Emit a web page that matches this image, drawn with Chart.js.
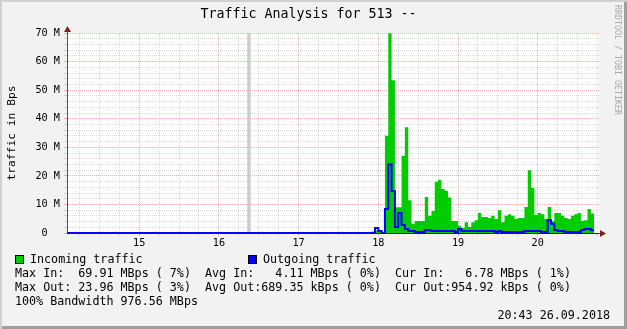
<!DOCTYPE html>
<html lang="en">
<head>
  <meta charset="UTF-8" />
  <title>Traffic Analysis for 513</title>
  <script src="https://cdn.jsdelivr.net/npm/chart.js"></script>
  <style>
    body { margin: 0; background: #fff; }
    .graph {
      position: relative; width: 627px; height: 329px; overflow: hidden;
      background: #f2f2f2;
      box-shadow: inset 2px 2px 0 #cfcfcf, inset -3px -3px 0 #9e9e9e;
      font-family: "DejaVu Sans Mono", monospace; color: #000;
    }
    .graph canvas { position: absolute; left: 0; top: 0; }
    .txt { position: absolute; white-space: pre; line-height: 14px; font-size: 11.7px; }
    .title { position: absolute; left: 0; width: 617px; top: 7px; text-align: center; font-size: 13.3px; line-height: 14px; white-space: pre; }
    .mark { position: absolute; left: 612px; top: 5px; writing-mode: vertical-rl; font-size: 8.3px; line-height: 11px; color: #a8a8a8; white-space: pre; }
    .box { position: absolute; width: 9px; height: 9px; box-sizing: border-box; border: 1px solid #000; }
  </style>
</head>
<body>
  <div class="graph">
    <canvas id="traffic" width="627" height="260"></canvas>
    <div class="title">Traffic Analysis for 513 --</div>
    <div class="mark">RRDTOOL / TOBI OETIKER</div>

    <div class="box" style="left: 15px; top: 255px; background: #00cc00;"></div>
    <div class="txt" style="left: 30px; top: 252px;">Incoming traffic</div>
    <div class="box" style="left: 248px; top: 255px; background: #0000ff;"></div>
    <div class="txt" style="left: 263px; top: 252px;">Outgoing traffic</div>

    <div class="txt" style="left: 15px; top: 266px;">Max In:  69.91 MBps ( 7%)</div>
    <div class="txt" style="left: 205px; top: 266px;">Avg In:   4.11 MBps ( 0%)</div>
    <div class="txt" style="left: 395px; top: 266px;">Cur In:   6.78 MBps ( 1%)</div>
    <div class="txt" style="left: 15px; top: 280px;">Max Out: 23.96 MBps ( 3%)</div>
    <div class="txt" style="left: 205px; top: 280px;">Avg Out:689.35 kBps ( 0%)</div>
    <div class="txt" style="left: 395px; top: 280px;">Cur Out:954.92 kBps ( 0%)</div>
    <div class="txt" style="left: 15px; top: 294px;">100% Bandwidth 976.56 MBps</div>
    <div class="txt" style="right: 17px; top: 308px;">20:43 26.09.2018</div>
  </div>

  <script>
    // x axis is in days, y axis in M (Bps)
    const dayValues = [15, 16, 17, 18, 19, 20];
    const dayLabels = ["15", "16", "17", "18", "19", "20"];
    const yTickValues = [0, 10, 20, 30, 40, 50, 60, 70];
    const yTickLabels = ["0  ", "10 M", "20 M", "30 M", "40 M", "50 M", "60 M", "70 M"];

    const X_MIN = 14.094;
    const X_MAX = 20.769;
    const Y_MAX = 70;

    // hourly samples, first one starts 2 hours before day 18
    const firstHour = -2;
    const incoming = [
      0.5, 1.0, 0.5, 0, 34, 69.9, 53.5, 9, 9, 27,
      37, 11.5, 3.2, 4.2, 4.2, 4.2, 12.6, 6, 7.7, 17.9,
      18.6, 15.4, 14.7, 12.4, 4.2, 4.2, 2.5, 1.75, 3.8, 2.1,
      3.8, 4.5, 7, 5.6, 5.6, 5.25, 6, 4.9, 8, 3.8,
      6, 6.6, 6, 4.9, 5.25, 5.25, 9.1, 22, 15.75, 6.3,
      7, 6.6, 4.9, 9.1, 4.2, 7, 7, 6, 5.25, 4.9,
      6, 6.6, 7, 4.2, 4.5, 8.4, 6.8
    ];
    const outgoing = [
      0, 1.75, 0.7, 0, 8.4, 23.96, 14.7, 2.1, 7, 2.8,
      1.4, 0.7, 0.7, 0.35, 0.35, 0.35, 1.0, 1.0, 0.7, 0.7,
      0.7, 0.7, 0.7, 0.7, 0.7, 0.35, 1.4, 0.7, 0.7, 0.7,
      0.7, 0.7, 0.7, 0.7, 0.7, 0.7, 0.7, 0.35, 0.7, 0.35,
      0.35, 0.35, 0.35, 0.35, 0.35, 0.35, 0.7, 0.7, 0.7, 0.7,
      0.7, 0.35, 0.35, 4.5, 3.2, 1.05, 0.7, 0.7, 0.35, 0.35,
      0.35, 0.35, 0.35, 1.05, 1.4, 1.4, 0.95
    ];
    // no data stored for this stretch (days)
    const unknownSpan = [16.354, 16.4];

    const MINOR = "rgba(143,143,143,0.32)";
    const MAJOR = "rgba(222,79,79,0.42)";
    const AXIS = "#555555";
    const ARROW = "#801f1f";

    function hourX(i) {
      return 18 + (firstHour + i) / 24;
    }

    // each value holds for one hour
    function steps(values) {
      const pts = values.map((v, i) => ({ x: hourX(i), y: v }));
      pts.push({ x: hourX(values.length), y: values[values.length - 1] });
      return pts;
    }

    const xGrid = [];
    for (let d = 14.25; d < X_MAX; d += 0.25) xGrid.push(d);
    const yGrid = [];
    for (let v = 0; v <= Y_MAX; v += 2) yGrid.push(v);

    const frame = {
      id: "frame",
      beforeDraw(chart) {
        const a = chart.chartArea, ctx = chart.ctx;
        ctx.save();
        ctx.fillStyle = "#ffffff";
        ctx.fillRect(a.left, a.top, a.right - a.left, a.bottom - a.top);
        ctx.restore();
      },
      afterDraw(chart) {
        const a = chart.chartArea, ctx = chart.ctx;
        const x0 = Math.round(a.left) + 0.5, y0 = Math.round(a.bottom) + 0.5;
        ctx.save();
        ctx.strokeStyle = AXIS;
        ctx.lineWidth = 1;
        ctx.beginPath();
        ctx.moveTo(x0, a.top); ctx.lineTo(x0, a.top - 3);
        ctx.moveTo(a.right, y0); ctx.lineTo(a.right + 3, y0);
        ctx.stroke();
        ctx.fillStyle = ARROW;
        ctx.beginPath();
        ctx.moveTo(x0, a.top - 7); ctx.lineTo(x0 - 3.5, a.top - 1); ctx.lineTo(x0 + 3.5, a.top - 1);
        ctx.closePath(); ctx.fill();
        ctx.beginPath();
        ctx.moveTo(a.right + 7, y0); ctx.lineTo(a.right + 1, y0 - 3.5); ctx.lineTo(a.right + 1, y0 + 3.5);
        ctx.closePath(); ctx.fill();
        ctx.restore();
      }
    };

    new Chart(document.getElementById("traffic"), {
      type: "line",
      data: {
        datasets: [
          {
            label: "Outgoing traffic",
            data: [{ x: X_MIN, y: 0 }].concat(steps(outgoing)),
            stepped: "before",
            borderColor: "#0000ff",
            borderWidth: 2,
            pointRadius: 0,
            fill: false
          },
          {
            label: "Incoming traffic",
            data: steps(incoming),
            stepped: "before",
            borderColor: "rgba(0,0,0,0)",
            borderWidth: 0,
            backgroundColor: "#00cc00",
            pointRadius: 0,
            fill: "origin"
          },
          {
            label: "unknown",
            data: [{ x: unknownSpan[0], y: Y_MAX }, { x: unknownSpan[1], y: Y_MAX }],
            borderColor: "rgba(0,0,0,0)",
            borderWidth: 0,
            backgroundColor: "#cccccc",
            pointRadius: 0,
            fill: "origin"
          }
        ]
      },
      options: {
        responsive: false,
        animation: false,
        devicePixelRatio: 1,
        layout: { padding: { left: 0, right: 28, top: 33, bottom: 0 } },
        plugins: { legend: { display: false }, tooltip: { enabled: false } },
        scales: {
          x: {
            type: "linear",
            min: X_MIN,
            max: X_MAX,
            afterBuildTicks: s => { s.ticks = xGrid.map(v => ({ value: v })); },
            afterFit: s => { s.height = 27; },
            ticks: {
              autoSkip: false,
              maxRotation: 0,
              padding: 1,
              color: "#000",
              font: { family: "DejaVu Sans Mono", size: 10.2 },
              callback: v => {
                const i = dayValues.indexOf(v);
                return i >= 0 ? dayLabels[i] : "";
              }
            },
            grid: {
              color: c => (c.tick && dayValues.includes(c.tick.value) ? MAJOR : MINOR),
              lineWidth: 1,
              tickLength: 3
            },
            // axis line goes over the outgoing line, as in rrdtool
            border: { display: true, color: "#1f1f3f", width: 1, dash: [1, 1], z: 1 }
          },
          y: {
            min: 0,
            max: Y_MAX,
            afterBuildTicks: s => { s.ticks = yGrid.map(v => ({ value: v })); },
            afterFit: s => { s.width = 67; },
            ticks: {
              autoSkip: false,
              padding: 4,
              color: "#000",
              font: { family: "DejaVu Sans Mono", size: 10.2 },
              callback: v => {
                const i = yTickValues.indexOf(v);
                return i >= 0 ? yTickLabels[i] : "";
              }
            },
            grid: {
              color: c => (c.tick && c.tick.value % 10 === 0 ? MAJOR : MINOR),
              lineWidth: 1,
              tickLength: 3
            },
            border: { display: true, color: AXIS, width: 1, dash: [1, 1] },
            title: {
              display: true,
              text: "traffic in Bps",
              color: "#000",
              font: { family: "DejaVu Sans Mono", size: 11.3 },
              padding: { top: 5, bottom: 0 }
            }
          }
        }
      },
      plugins: [frame]
    });
  </script>
</body>
</html>
